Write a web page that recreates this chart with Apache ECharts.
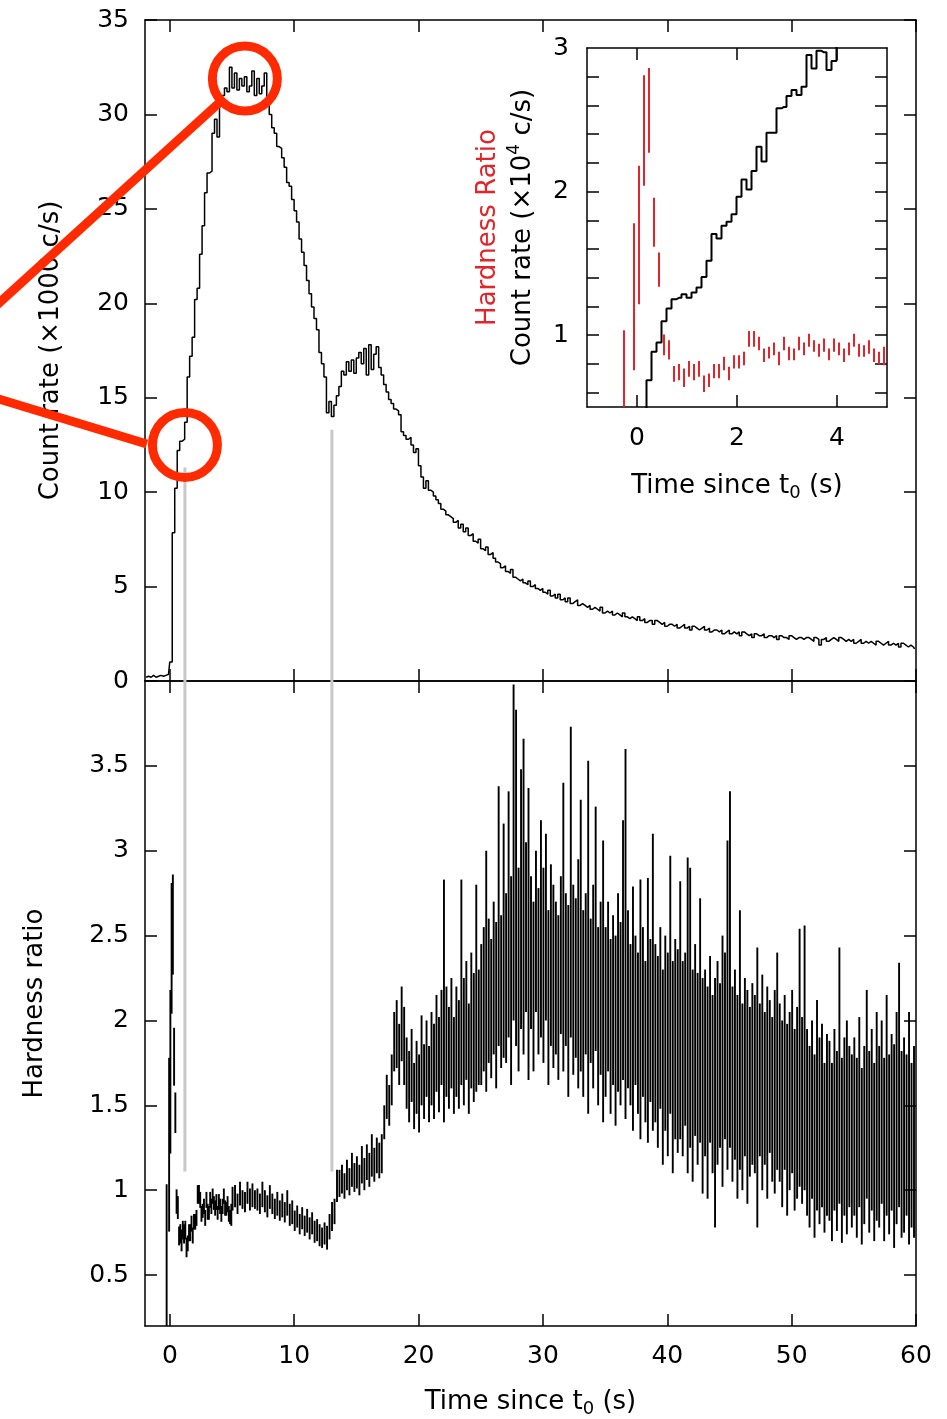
<!DOCTYPE html>
<html><head><meta charset="utf-8">
<script src="https://cdn.jsdelivr.net/npm/echarts@6/dist/echarts.min.js"></script>
<style>html,body{margin:0;padding:0;background:#fff}#c{width:947px;height:1419px}</style>
</head><body><div id="c"></div>
<script>
// ---------------- DATA ----------------
// Main light curve: count rate (x1000 c/s), 0.2 s bins, first bin centre at -1.91 s
const countT0 = -1.91, countDt = 0.2;
const countRate = [
0.2,0.25,0.2,0.3,0.2,0.25,0.3,0.25,0.3,0.35,1.0,
7.85,10.2,12.2,12.7,12.8,13.7,16.1,17.2,18.2,20.2,
20.8,22.6,24.1,25.85,26.9,27.0,29.0,29.75,28.8,30.5,
31.0,31.4,31.2,32.5,31.4,32.2,31.3,31.9,31.5,32.0,
31.2,31.5,32.3,31.0,31.9,31.1,31.5,32.2,30.6,30.0,
29.3,29.0,28.3,28.2,27.7,27.2,26.4,26.2,25.5,24.9,
24.3,23.4,22.7,22.0,21.2,20.5,19.8,19.2,18.6,17.4,
16.8,16.1,14.2,14.8,14.0,14.6,15.1,15.6,16.4,16.2,
16.9,16.4,17.0,16.3,17.1,17.4,16.8,17.6,16.2,17.8,
16.5,17.3,17.7,16.6,16.2,15.7,15.3,14.9,14.7,14.4,
14.3,14.1,13.2,13.0,12.8,12.9,12.5,12.1,12.3,11.4,
10.8,10.2,10.6,10.1,10.0,9.8,9.6,9.4,9.1,9.0,
8.8,8.7,8.6,8.4,8.5,8.1,8.3,7.9,8.1,7.7,
7.8,7.4,7.3,7.5,7.0,6.9,7.1,6.7,6.8,6.5,
6.3,6.2,6.0,6.1,5.8,5.7,5.9,5.5,5.4,5.3,
5.4,5.2,5.1,5.3,5.0,5.1,4.9,4.8,4.9,4.7,
4.6,4.8,4.5,4.6,4.4,4.6,4.3,4.4,4.2,4.4,
4.1,4.2,4.3,4.0,4.1,4.0,3.9,4.0,3.8,3.9,
3.8,3.7,3.9,3.6,3.7,3.6,3.7,3.5,3.6,3.5,
3.4,3.6,3.4,3.3,3.4,3.3,3.2,3.4,3.2,3.3,
3.1,3.2,3.2,3.0,3.2,3.1,3.0,3.1,2.9,3.0,
3.0,2.9,3.0,2.8,2.9,3.0,2.8,2.9,2.7,2.9,
2.8,2.7,2.8,2.9,2.7,2.8,2.6,2.7,2.7,2.6,
2.7,2.5,2.6,2.7,2.5,2.6,2.5,2.6,2.4,2.6,
2.5,2.4,2.5,2.3,2.5,2.4,2.4,2.5,2.3,2.4,
2.4,2.3,2.4,2.2,2.4,2.3,2.3,2.2,2.4,2.3,
2.2,2.3,2.3,2.2,2.3,2.3,2.2,2.1,2.3,2.2,
1.9,2.2,2.3,2.1,2.2,2.3,2.2,2.1,2.3,2.2,
2.1,2.2,2.1,2.2,2.0,2.1,2.2,2.0,2.1,2.0,
2.1,2.0,1.9,2.1,2.0,1.9,2.0,2.1,1.9,2.0,
1.9,2.0,1.8,2.0,1.9,1.8,1.9,1.8,1.7
];

// Fine (0.1 s) hardness-ratio error bars, first centre -0.26 s (inset, and main panel for t<5 s)
const fineT0 = -0.26, fineDt = 0.1;
const fineHrLo = [0.1,null,0.756,1.216,2.04,2.27,1.616,1.337,0.861,0.83,
0.675,0.686,0.64,0.71,0.686,0.71,0.605,0.64,0.70,0.70,
0.756,0.686,0.768,0.768,0.79,0.92,0.92,0.896,0.814,0.837,
0.86,0.79,0.896,0.826,0.826,0.896,0.86,0.92,0.884,0.85,
0.884,0.826,0.884,0.86,0.814,0.86,0.92,0.85,0.85,0.87,
0.814,0.80,0.79];
const fineHrHi = [1.035,null,1.78,2.18,2.81,2.86,1.957,1.576,1.005,0.965,
0.786,0.80,0.768,0.82,0.80,0.82,0.72,0.733,0.80,0.80,
0.85,0.78,0.86,0.86,0.884,1.03,1.03,0.99,0.907,0.92,
0.95,0.884,0.99,0.92,0.907,0.99,0.95,1.01,0.965,0.94,
0.977,0.907,0.977,0.95,0.907,0.95,1.01,0.94,0.93,0.965,
0.907,0.884,0.92];

// Hardness-ratio error bars, 0.2 s bins from 5.04 s
const hrT0 = 5.04, hrDt = 0.2;
const hrLo = [
0.88,0.90,0.86,0.91,0.89,0.87,0.92,0.88,0.90,0.89,
0.88,0.86,0.90,0.87,0.84,0.89,0.86,0.83,0.85,0.82,
0.84,0.81,0.85,0.79,0.80,0.76,0.78,0.74,0.77,0.73,
0.75,0.71,0.74,0.69,0.70,0.67,0.66,0.68,0.65,0.71,
0.76,0.80,0.93,0.96,0.98,0.95,1.00,0.97,1.02,0.99,
1.01,0.97,1.04,1.00,1.06,1.02,1.08,1.05,1.10,1.07,
1.10,1.30,1.42,1.38,1.50,1.70,1.72,1.62,1.76,1.62,
1.48,1.40,1.52,1.36,1.45,1.34,1.50,1.42,1.55,1.40,
1.50,1.42,1.58,1.46,1.62,1.40,1.55,1.48,1.60,1.45,
1.55,1.48,1.62,1.50,1.65,1.45,1.60,1.52,1.58,1.62,
1.62,1.70,1.58,1.75,1.66,1.80,1.60,1.85,1.72,1.78,
1.75,1.90,1.62,2.00,1.85,1.70,1.95,1.80,2.05,1.65,
1.95,1.70,2.05,1.80,1.90,1.75,2.00,1.62,1.85,1.72,
1.80,1.65,1.92,1.70,1.85,1.55,1.90,1.68,1.78,1.60,
1.70,1.55,1.80,1.45,1.75,1.60,1.82,1.50,1.68,1.40,
1.55,1.70,1.45,1.62,1.38,1.58,1.50,1.65,1.42,1.60,
1.50,1.35,1.62,1.45,1.30,1.55,1.40,1.28,1.52,1.35,
1.40,1.25,1.48,1.15,1.35,1.20,1.45,1.10,1.30,1.22,
1.30,1.20,1.38,1.10,1.25,1.05,1.32,1.15,1.28,0.98,
1.20,0.95,1.28,1.10,0.78,1.15,1.25,1.02,1.30,1.12,
1.25,1.05,1.18,0.95,1.12,1.00,1.20,0.92,1.08,1.15,
1.10,0.78,1.20,1.00,1.15,0.95,1.22,1.05,0.98,1.12,
1.05,0.90,1.12,0.85,1.00,1.10,0.88,0.95,1.02,0.92,
1.00,0.85,0.78,0.95,0.72,0.88,0.80,0.90,0.75,0.85,
0.82,0.70,0.88,0.76,0.92,0.69,0.85,0.74,0.90,0.78,
0.85,0.72,0.90,0.68,0.80,0.95,0.75,0.88,0.70,0.82,
0.78,0.92,0.70,0.85,0.74,0.88,0.66,0.80,0.90,0.72,
0.75,0.85,0.68,0.78,0.72
];
const hrHi = [
1.02,1.03,0.98,1.05,1.00,0.99,1.05,1.01,1.04,1.00,
1.01,0.98,1.05,1.00,0.97,1.03,0.98,0.95,0.99,0.94,
0.98,0.93,1.00,0.92,0.94,0.88,0.91,0.86,0.90,0.85,
0.89,0.84,0.87,0.82,0.83,0.80,0.78,0.81,0.79,0.86,
0.93,0.95,1.12,1.12,1.15,1.10,1.18,1.13,1.22,1.16,
1.20,1.15,1.26,1.19,1.27,1.22,1.33,1.25,1.31,1.28,
1.33,1.50,1.68,1.62,1.80,2.05,2.12,1.98,2.20,2.08,
1.90,1.82,1.95,1.75,1.88,1.80,2.03,1.86,2.00,1.85,
2.05,1.98,2.15,2.02,2.18,2.83,2.20,2.08,2.25,2.02,
2.20,2.12,2.83,2.25,2.35,2.10,2.40,2.28,2.80,2.30,
2.45,2.55,3.00,2.60,2.48,2.70,2.58,3.38,2.62,3.16,
2.75,3.35,2.85,3.98,3.83,2.90,3.48,3.66,3.05,3.37,
2.85,2.70,3.00,2.78,3.18,2.90,3.10,2.65,2.92,2.80,
2.70,2.62,2.85,3.40,2.75,2.68,3.73,2.80,2.72,2.95,
3.30,2.65,2.75,3.53,2.60,2.80,3.26,2.55,2.70,3.06,
2.55,2.70,2.48,2.62,2.50,2.75,2.58,3.18,3.60,2.65,
2.45,2.79,2.50,2.40,2.83,2.55,2.35,2.84,2.48,3.10,
2.45,2.38,2.55,2.30,2.50,2.40,2.97,2.35,2.48,2.42,
2.82,2.35,2.40,2.96,2.90,2.30,2.45,2.28,2.72,2.25,
2.30,2.20,2.38,2.15,2.25,2.35,2.22,2.50,2.40,3.06,
3.35,2.20,2.30,2.15,2.65,2.10,2.25,2.18,2.08,2.22,
2.15,2.43,2.10,2.27,2.05,2.20,2.12,2.02,2.18,2.40,
2.10,2.00,2.15,1.98,2.05,2.18,1.95,2.08,2.54,2.02,
2.56,1.95,1.85,2.00,1.80,2.12,1.90,1.98,1.75,1.92,
1.88,1.75,1.95,1.82,2.43,1.78,1.90,2.00,1.85,1.80,
1.90,1.78,2.02,1.72,1.85,2.18,1.82,1.95,1.75,2.05,
1.85,2.00,1.78,2.15,1.80,1.92,1.86,2.05,2.34,1.82,
1.90,1.80,2.05,1.75,1.85
];

// Inset light curve: count rate (x10^4 c/s), 0.1 s bins, first centre -0.96 s
const insetT0 = -0.96, insetDt = 0.1;
const insetCount = [
0.02,0.03,0.02,0.03,0.02,0.03,0.03,0.02,0.03,0.04,0.05,0.15,
0.686,0.884,0.949,1.098,1.186,1.251,1.26,1.286,1.26,1.297,
1.332,1.406,1.518,1.704,1.674,1.762,1.79,1.843,1.964,2.085,
2.015,2.143,2.312,2.21,2.41,2.41,2.58,2.59,2.665,2.707,
2.672,2.73,2.951,2.858,2.98,2.97,2.847,2.91,
3.05,3.12,3.1,3.18,3.2,3.15,3.22,3.12,3.16,3.2,3.1
];

// Tick values / labels
const xTicksMain = [0,10,20,30,40,50,60];
const yTicksHr = [0.5,1,1.5,2,2.5,3,3.5];
const xTicksInset = [0,2,4];
const yTicksInset = [0.6,0.8,1.0,1.2,1.4,1.6,1.8,2.0,2.2,2.4,2.6,2.8];
const yLabelsInset = [1,2,3];

// Annotations (data coordinates of the count-rate panel)
const markerT = [1.21, 13.03];          // grey guide lines
const markerTopCount = [11.3, 13.3];
const markerBottomHr = [1.11, 1.11];
const circleT = [6.03, 1.21];           // red rings
const circleC = [31.9, 12.5];
const leaders = [
  [[-14.1, 19.8], [4.1, 30.7]],
  [[-14.1, 15.0], [-1.85, 12.55]]
];

// ---------------- CHART ----------------
const FONT = 'DejaVu Sans';
const FS = 25, NFS = 26;
const RING = '#ff2a00';
const HRRED = '#e3242b';
const rd = v => Math.round(v * 1000) / 1000;

const countData = countRate.map((c, k) => [rd(countT0 + k * countDt), c]);
const fineBars = [];
fineHrLo.forEach((lo, k) => { if (lo != null) fineBars.push([rd(fineT0 + k * fineDt), lo, fineHrHi[k]]); });
const mainBars = fineBars.concat(hrLo.map((lo, k) => [rd(hrT0 + k * hrDt), lo, hrHi[k]]));
const insetData = insetCount.map((c, k) => [rd(insetT0 + k * insetDt), c]);

function bars(yMin, yMax, color, width) {
  return function (params, api) {
    const t = api.value(0);
    const lo = Math.max(api.value(1), yMin), hi = Math.min(api.value(2), yMax);
    if (!(hi > lo)) return;
    const a = api.coord([t, lo]), b = api.coord([t, hi]);
    return { type: 'line', shape: { x1: a[0], y1: a[1], x2: b[0], y2: b[1] },
             style: { stroke: color, lineWidth: width } };
  };
}

const lineS = { color: '#000', width: 1.5 };
function ax(o) {
  const base = {
    type: 'value', splitLine: { show: false },
    axisLine: { show: true, onZero: false, lineStyle: lineS },
    axisTick: { show: true, inside: true, length: 12, lineStyle: lineS },
    axisLabel: { show: false, fontFamily: FONT, fontSize: FS, color: '#000' },
    nameTextStyle: { fontFamily: FONT, fontSize: NFS, color: '#000' }
  };
  const r = Object.assign({}, base, o);
  r.axisTick = Object.assign({}, base.axisTick, o.axisTick || {});
  r.axisLabel = Object.assign({}, base.axisLabel, o.axisLabel || {});
  r.nameTextStyle = Object.assign({}, base.nameTextStyle, o.nameTextStyle || {});
  return r;
}

const t0Name = 'Time since t{s|0} (s)';
const subRich = { s: { fontFamily: FONT, fontSize: 18, lineHeight: 18, verticalAlign: 'bottom', color: '#000' } };

const option = {
  animation: false,
  backgroundColor: '#fff',
  textStyle: { fontFamily: FONT },
  grid: [
    { left: 145, top: 20, width: 771, height: 661 },
    { left: 145, top: 681, width: 771, height: 645 },
    { left: 587, top: 48, width: 300, height: 359 }
  ],
  xAxis: [
    ax({ gridIndex: 0, position: 'bottom', min: -2, max: 60, axisTick: { customValues: xTicksMain } }),
    ax({ gridIndex: 0, position: 'top', min: -2, max: 60, axisTick: { customValues: xTicksMain } }),
    ax({ gridIndex: 1, position: 'bottom', min: -2, max: 60, axisTick: { customValues: xTicksMain },
         axisLabel: { show: true, customValues: xTicksMain, margin: 18 },
         name: t0Name, nameLocation: 'middle', nameGap: 60,
         nameTextStyle: { lineHeight: 32, rich: subRich } }),
    ax({ gridIndex: 1, position: 'top', min: -2, max: 60, axisTick: { customValues: xTicksMain } }),
    ax({ gridIndex: 2, position: 'bottom', min: -1, max: 5, axisTick: { customValues: xTicksInset },
         axisLabel: { show: true, customValues: xTicksInset, margin: 19 },
         name: t0Name, nameLocation: 'middle', nameGap: 63,
         nameTextStyle: { lineHeight: 32, rich: subRich } }),
    ax({ gridIndex: 2, position: 'top', min: -1, max: 5, axisTick: { customValues: xTicksInset } })
  ],
  yAxis: [
    ax({ gridIndex: 0, position: 'left', min: 0, max: 35, interval: 5,
         axisLabel: { show: true, margin: 16 },
         name: 'Count rate (×1000 c/s)', nameLocation: 'middle', nameGap: 81 }),
    ax({ gridIndex: 0, position: 'right', min: 0, max: 35, interval: 5 }),
    ax({ gridIndex: 1, position: 'left', min: 0.2, max: 4, axisTick: { customValues: yTicksHr },
         axisLabel: { show: true, customValues: yTicksHr, margin: 16 },
         name: 'Hardness ratio', nameLocation: 'middle', nameGap: 97 }),
    ax({ gridIndex: 1, position: 'right', min: 0.2, max: 4, axisTick: { customValues: yTicksHr } }),
    ax({ gridIndex: 2, position: 'left', min: 0.5, max: 3, axisTick: { customValues: yTicksInset },
         axisLabel: { show: true, customValues: yLabelsInset, margin: 18 },
         name: '{r|Hardness Ratio}\nCount rate (×10{p|4} c/s)', nameLocation: 'middle', nameGap: 46,
         nameTextStyle: { lineHeight: 35, rich: {
           r: { fontFamily: FONT, fontSize: NFS, lineHeight: 35, color: HRRED },
           p: { fontFamily: FONT, fontSize: 17, lineHeight: 20, verticalAlign: 'top', color: '#000' } } } }),
    ax({ gridIndex: 2, position: 'right', min: 0.5, max: 3, axisTick: { customValues: yTicksInset } })
  ],
  series: [
    ...markerT.map((t, i) => ({ type: 'line', xAxisIndex: 0, yAxisIndex: 0, symbol: 'none', z: 1,
        lineStyle: { color: '#c8c8c8', width: 3 }, data: [[t, markerTopCount[i]], [t, 0]] })),
    ...markerT.map((t, i) => ({ type: 'line', xAxisIndex: 2, yAxisIndex: 2, symbol: 'none', z: 1,
        lineStyle: { color: '#c8c8c8', width: 3 }, data: [[t, 4], [t, markerBottomHr[i]]] })),
    { type: 'line', xAxisIndex: 0, yAxisIndex: 0, step: 'middle', symbol: 'none', z: 3,
      lineStyle: { color: '#000', width: 1.5 }, data: countData },
    { type: 'custom', xAxisIndex: 2, yAxisIndex: 2, z: 3, renderItem: bars(0.2, 4, '#000', 1.9),
      encode: { x: 0, y: [1, 2] }, data: mainBars },
    { type: 'line', xAxisIndex: 4, yAxisIndex: 4, step: 'middle', symbol: 'none', z: 4,
      lineStyle: { color: '#000', width: 2 }, data: insetData },
    { type: 'custom', xAxisIndex: 4, yAxisIndex: 4, z: 4, renderItem: bars(0.5, 3, HRRED, 2),
      encode: { x: 0, y: [1, 2] }, data: fineBars },
    { type: 'scatter', xAxisIndex: 0, yAxisIndex: 0, symbol: 'circle', symbolSize: 65, clip: false, z: 11,
      itemStyle: { color: 'rgba(0,0,0,0)', borderColor: RING, borderWidth: 9, opacity: 1 },
      data: circleT.map((t, i) => [t, circleC[i]]) }
  ]
};
const chart = echarts.init(document.getElementById('c'), null, { renderer: 'canvas' });
chart.setOption(option);

// red leader lines: positioned through the count-rate axes (may extend past the plot)
const finder = { xAxisIndex: 0, yAxisIndex: 0 };
chart.setOption({
  graphic: leaders.map(seg => {
    const a = chart.convertToPixel(finder, seg[0]);
    const b = chart.convertToPixel(finder, seg[1]);
    return { type: 'line', z: 50, silent: true,
             shape: { x1: a[0], y1: a[1], x2: b[0], y2: b[1] },
             style: { stroke: RING, lineWidth: 9 } };
  })
});
</script></body></html>
